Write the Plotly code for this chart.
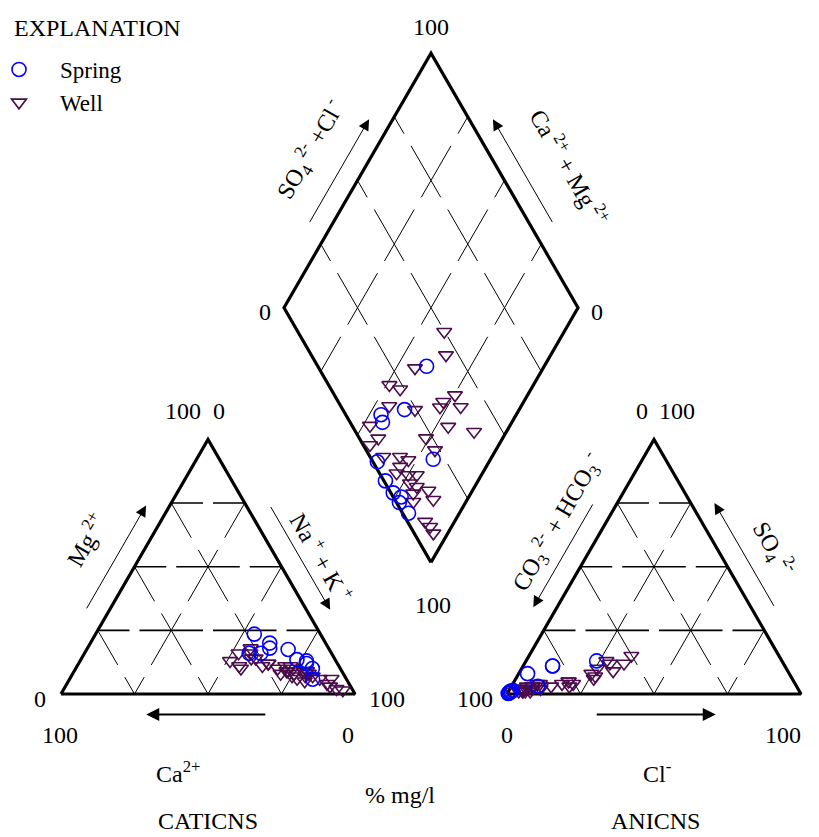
import numpy as np
import plotly.graph_objects as go

# ---------------- data (percent, mg/l basis) ----------------
spring_ca   = [24, 19, 28, 22.5, 20, 9.5, 14, 13, 10, 10.5, 11.5]
spring_mg   = [16, 20, 16, 23.5, 18, 10, 17.5, 13.5, 13, 12, 5.8]
spring_nak  = [60, 61, 56, 54, 62, 80.5, 68.5, 73.5, 77, 77.5, 82.7]
spring_hco3 = [63, 79, 89, 88, 98.5, 79, 99.5, 99.2, 97.3, 99, 98]
spring_so4  = [13, 11, 8, 3, 1, 11, 0.2, 0.3, 1.5, 0.5, 1]
spring_cl   = [24, 10, 3, 9, 0.5, 10, 0.3, 0.5, 1.2, 0.5, 1]

well_ca   = [26.8, 23.6, 27.6, 36, 26.5, 33.9, 23.4, 18.4, 16.7, 16.4, 13.4, 11.8,
             5, 16.1, 12.7, 31.6, 33.8, 28.3, 26, 21.3, 18.8, 21.3, 18.2, 17.9,
             13, 16.7, 11.7, 14.6, 9, 7.5, 10.9, 7, 5.3, 3.4]
well_mg   = [14, 12, 16, 13, 18, 11, 12, 9, 8, 11, 7, 9,
             6, 10, 8, 16, 10, 14, 11, 10, 9, 8, 11, 7,
             9, 6, 8, 5, 6, 4, 7, 3, 2, 1.5]
well_nak  = [59.2, 64.4, 56.4, 51, 55.5, 55.1, 64.6, 72.6, 75.3, 72.6, 79.6, 79.2,
             89, 73.9, 79.3, 52.4, 56.2, 57.7, 63, 68.7, 72.2, 70.7, 70.8, 75.1,
             78, 77.3, 80.3, 80.4, 85, 88.5, 82.1, 90, 92.7, 95.1]
well_hco3 = [50.2, 54.2, 67.3, 79.3, 76.5, 83.5, 75.5, 64.3, 59, 66.5, 59.4, 67.5,
             59.7, 77.3, 76.6, 93.9, 97.7, 93.6, 95.5, 89.8, 87.6, 91.7, 94.2, 90.6,
             87.7, 91.6, 90, 92.5, 86.8, 86.9, 94.1, 94, 93.3, 93.5]
well_so4  = [15, 12, 8, 4, 5, 3, 4, 10, 12, 7, 9, 6,
             13, 3, 5, 2, 1, 2, 1, 3, 2, 3, 1, 2,
             4, 1, 3, 2, 4, 3, 1, 2, 1, 2]
well_cl   = [34.8, 33.8, 24.7, 16.7, 18.5, 13.5, 20.5, 25.7, 29, 26.5, 31.6, 26.5,
             27.3, 19.7, 18.4, 4.1, 1.3, 4.4, 3.5, 7.2, 10.4, 5.3, 4.8, 7.4,
             8.3, 7.4, 7, 5.5, 9.2, 10.1, 4.9, 4, 5.7, 4.5]

tick_labels = ["0", "100"]

# ---------------- geometry ----------------
SIDE = 100.0
GAP = 51.7
H = np.sqrt(3) / 2
ANION_X0 = SIDE + GAP
BX, BY = SIDE + GAP / 2, GAP * H          # diamond bottom vertex
PX = 2.94                                  # pixels per data unit
OFF_PAGE = 8                               # page body margin
X0PX, Y0PX = 61.0 - OFF_PAGE, 694.0 - OFF_PAGE   # figure pixel of data origin
W, HT = 819 - OFF_PAGE, 837 - OFF_PAGE


def tern(left, top, right, ox):
    tot = np.asarray(left, float) + np.asarray(top, float) + np.asarray(right, float)
    t = np.asarray(top, float) / tot * SIDE
    r = np.asarray(right, float) / tot * SIDE
    return ox + r + t / 2, t * H


def diam(u, v):
    u = np.asarray(u, float)
    v = np.asarray(v, float)
    return BX + (v - u) / 2, BY + (u + v) * H


def diamond_pts(ca, mg, nak, hco3, so4, cl):
    ca, mg, nak = map(lambda a: np.asarray(a, float), (ca, mg, nak))
    hco3, so4, cl = map(lambda a: np.asarray(a, float), (hco3, so4, cl))
    u = (ca + mg) / (ca + mg + nak) * SIDE
    v = (so4 + cl) / (hco3 + so4 + cl) * SIDE
    return diam(u, v)


def px2d(px, py):
    """page pixel -> data coordinates"""
    return (px - OFF_PAGE - X0PX) / PX, (Y0PX - (py - OFF_PAGE)) / PX


fig = go.Figure()


def add_segments(segs, width, dash, color="black"):
    xs, ys = [], []
    for (x0, y0), (x1, y1) in segs:
        xs += [x0, x1, None]
        ys += [y0, y1, None]
    fig.add_trace(go.Scatter(x=xs, y=ys, mode="lines", hoverinfo="skip",
                             showlegend=False,
                             line=dict(color=color, width=width, dash=dash)))


def cells(p0, p1, n):
    out = []
    for i in range(n):
        a = (p0[0] + (p1[0] - p0[0]) * i / n, p0[1] + (p1[1] - p0[1]) * i / n)
        b = (p0[0] + (p1[0] - p0[0]) * (i + 1) / n, p0[1] + (p1[1] - p0[1]) * (i + 1) / n)
        out.append((a, b))
    return out


def P(l, t, r, ox):
    x, y = tern(l, t, r, ox)
    return float(x), float(y)


# grids for the two triangles
hsegs, dsegs = [], []
for ox in (0.0, ANION_X0):
    for k in (25, 50, 75):
        n = int((100 - k) / 25)
        hsegs += cells(P(100 - k, k, 0, ox), P(0, k, 100 - k, ox), n)
        dsegs += cells(P(0, 100 - k, k, ox), P(100 - k, 0, k, ox), n)
        dsegs += cells(P(k, 100 - k, 0, ox), P(k, 0, 100 - k, ox), n)
add_segments(hsegs, 1.6, "31.75px,10px")
add_segments(dsegs, 1, "40px,14px")

# diamond grid
gsegs = []
for k in (25, 50, 75):
    a = diam(k, 0); b = diam(k, 100)
    gsegs += cells((float(a[0]), float(a[1])), (float(b[0]), float(b[1])), 4)
    a = diam(0, k); b = diam(100, k)
    gsegs += cells((float(a[0]), float(a[1])), (float(b[0]), float(b[1])), 4)
add_segments(gsegs, 1, "40px,14px")

# outlines
for ox in (0.0, ANION_X0):
    xs, ys = tern([100, 0, 0, 100], [0, 0, 100, 0], [0, 100, 0, 0], ox)
    fig.add_trace(go.Scatter(x=xs, y=ys, mode="lines", hoverinfo="skip", showlegend=False,
                             line=dict(color="black", width=3.2)))
dx, dy = diam([0, 100, 100, 0, 0], [0, 0, 100, 100, 0])
fig.add_trace(go.Scatter(x=dx, y=dy, mode="lines", hoverinfo="skip", showlegend=False,
                         line=dict(color="black", width=3.2)))

# ---------------- data points ----------------
WELL_COL = "#4b0c4b"
SPR_COL = "#0000ff"
well_style = dict(symbol="triangle-down-open", size=13, color=WELL_COL, line=dict(width=1.6, color=WELL_COL))
spr_style = dict(symbol="circle-open", size=14, color=SPR_COL, line=dict(width=1.6, color=SPR_COL))

cw = tern(well_ca, well_mg, well_nak, 0.0)
aw = tern(well_hco3, well_so4, well_cl, ANION_X0)
dw = diamond_pts(well_ca, well_mg, well_nak, well_hco3, well_so4, well_cl)
cs = tern(spring_ca, spring_mg, spring_nak, 0.0)
as_ = tern(spring_hco3, spring_so4, spring_cl, ANION_X0)
ds = diamond_pts(spring_ca, spring_mg, spring_nak, spring_hco3, spring_so4, spring_cl)

fig.add_trace(go.Scatter(x=np.concatenate([cw[0], aw[0], dw[0]]),
                         y=np.concatenate([cw[1], aw[1], dw[1]]),
                         mode="markers", name="Well", marker=well_style, legendrank=2))
fig.add_trace(go.Scatter(x=np.concatenate([cs[0], as_[0], ds[0]]),
                         y=np.concatenate([cs[1], as_[1], ds[1]]),
                         mode="markers", name="Spring", marker=spr_style, legendrank=1))

# ---------------- annotations ----------------
FS = 24
FONT = dict(family="Liberation Serif, Times New Roman, serif", size=FS, color="black")
ann = []


def label(x, y, text, xs=0, ys=0, angle=0, size=FS):
    ann.append(dict(x=x, y=y, xref="x", yref="y", text=text, showarrow=False,
                    xshift=xs, yshift=ys, textangle=angle,
                    font=dict(FONT, size=size), xanchor="center", yanchor="middle"))


# vertex numbers
lt_top = P(0, 100, 0, 0.0); lt_bl = P(100, 0, 0, 0.0); lt_br = P(0, 0, 100, 0.0)
rt_top = P(0, 100, 0, ANION_X0); rt_bl = P(100, 0, 0, ANION_X0); rt_br = P(0, 0, 100, ANION_X0)
dT = diam(100, 100); dL = diam(100, 0); dR = diam(0, 100); dB = diam(0, 0)

label(*lt_top, tick_labels[1], xs=-25, ys=28)
label(*lt_top, tick_labels[0], xs=11, ys=28)
label(*lt_bl, tick_labels[0], xs=-21, ys=-5)
label(*lt_bl, tick_labels[1], xs=-1, ys=-41)
label(*lt_br, tick_labels[1], xs=32, ys=-5)
label(*lt_br, tick_labels[0], xs=-7, ys=-41)

label(*rt_top, tick_labels[0], xs=-12, ys=28)
label(*rt_top, tick_labels[1], xs=23, ys=28)
label(*rt_bl, tick_labels[1], xs=-32, ys=-5)
label(*rt_bl, tick_labels[0], xs=0, ys=-41)
label(*rt_br, tick_labels[0], xs=20, ys=-5)
label(*rt_br, tick_labels[1], xs=-18, ys=-41)

label(float(dT[0]), float(dT[1]), tick_labels[1], ys=26)
label(float(dL[0]), float(dL[1]), tick_labels[0], xs=-19, ys=-4)
label(float(dR[0]), float(dR[1]), tick_labels[0], xs=19, ys=-4)
label(float(dB[0]), float(dB[1]), tick_labels[1], xs=2, ys=-43)

# rotated axis titles
label(*px2d(85, 540), "Mg<sup> 2+</sup>", angle=-60)
label(*px2d(322, 557), "Na<sup> +</sup> + K<sup> +</sup>", angle=60)
label(*px2d(557, 522), "CO<sub>3</sub><sup> 2-</sup> + HCO<sub>3</sub><sup> -</sup>", angle=-60)
label(*px2d(773, 548), "SO<sub>4</sub><sup> 2-</sup>", angle=60)
label(*px2d(310, 150), "SO<sub>4</sub><sup> 2-</sup> +Cl<sup> -</sup>", angle=-60)
label(*px2d(570, 167), "Ca<sup> 2+</sup> + Mg<sup> 2+</sup>", angle=60)

# bottom titles
label(*px2d(178, 772), "Ca<sup>2+</sup>")
label(*px2d(208, 821), "CATICNS")
label(*px2d(400, 795), "% mg/l")
label(*px2d(657, 772), "Cl<sup>-</sup>")
label(*px2d(655, 821), "ANICNS")

# legend heading
ann.append(dict(x=4 / W, y=1 - 20 / HT, xref="paper", yref="paper", text="EXPLANATION",
                showarrow=False, xanchor="left", yanchor="middle", font=FONT))


# arrows parallel to the edges
def edge_arrow(p0, p1, f0, f1, off, width, size):
    p0 = np.array(p0, float); p1 = np.array(p1, float)
    d = p1 - p0
    L = np.hypot(*d)
    nrm = np.array([-d[1], d[0]]) / L
    tail = p0 + d * f0 + nrm * off
    head = p0 + d * f1 + nrm * off
    ann.append(dict(x=float(head[0]), y=float(head[1]), ax=float(tail[0]), ay=float(tail[1]),
                    xref="x", yref="y", axref="x", ayref="y", text="", showarrow=True,
                    arrowhead=2, arrowsize=size, arrowwidth=width, arrowcolor="black"))


OFF = 7.0
edge_arrow(lt_bl, lt_top, 0.29, 0.70, OFF, 1, 2.2)               # Mg
edge_arrow(lt_top, lt_br, 0.30, 0.71, OFF, 1, 2.2)               # Na + K
edge_arrow(lt_br, lt_bl, 0.30, 0.71, OFF, 2, 1.3)                # Ca (bottom)
edge_arrow(rt_top, rt_bl, 0.29, 0.70, -OFF, 1, 2.2)              # CO3 + HCO3
edge_arrow(rt_br, rt_top, 0.30, 0.71, -OFF, 1, 2.2)              # SO4
edge_arrow(rt_bl, rt_br, 0.30, 0.71, -OFF, 2, 1.3)               # Cl (bottom)
edge_arrow((float(dL[0]), float(dL[1])), (float(dT[0]), float(dT[1])), 0.29, 0.70, OFF, 1, 2.2)
edge_arrow((float(dR[0]), float(dR[1])), (float(dT[0]), float(dT[1])), 0.29, 0.70, -OFF, 1, 2.2)

# ---------------- layout ----------------
xr = [(0 - X0PX) / PX, (W - X0PX) / PX]
yr = [(Y0PX - HT) / PX, (Y0PX - 0) / PX]
fig.update_layout(
    width=W, height=HT, autosize=False,
    margin=dict(l=0, r=0, t=0, b=0, autoexpand=False),
    paper_bgcolor="white", plot_bgcolor="white",
    xaxis=dict(range=xr, visible=False, fixedrange=True),
    yaxis=dict(range=yr, visible=False, fixedrange=True),
    annotations=ann,
    font=FONT,
    showlegend=True,
    legend=dict(x=-30 / W, y=1 - 40 / HT, xanchor="left", yanchor="top",
                font=dict(FONT, size=23), itemwidth=72, tracegroupgap=0,
                bgcolor="rgba(0,0,0,0)", borderwidth=0),
)

fig.write_html("out.html")
